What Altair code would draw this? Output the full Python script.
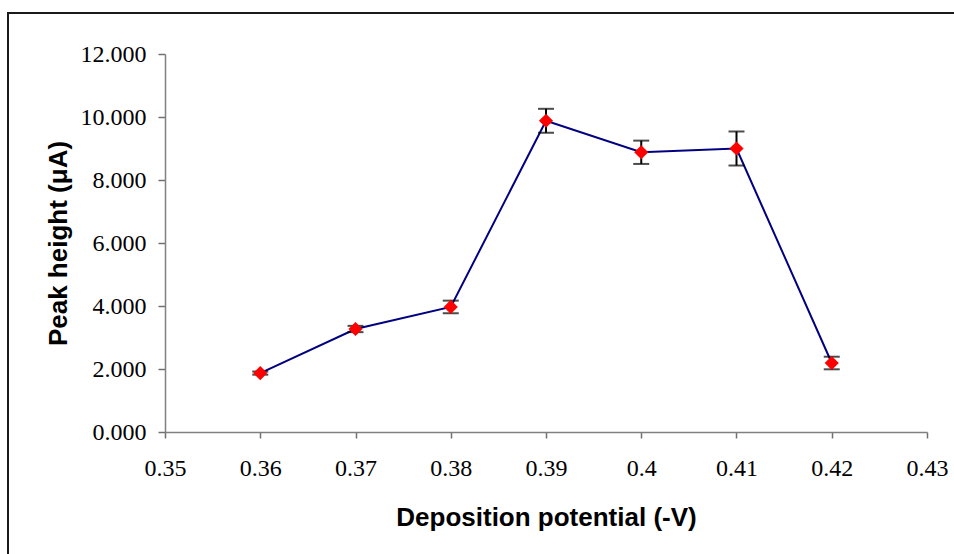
import altair as alt
import pandas as pd

# Deposition potential (-V) and measured peak height (µA) with standard deviations
potential = [0.36, 0.37, 0.38, 0.39, 0.40, 0.41, 0.42]
peak_height = [1.87, 3.27, 3.97, 9.88, 8.88, 9.00, 2.19]
peak_error = [0.05, 0.10, 0.20, 0.38, 0.37, 0.54, 0.20]

x_ticks = [0.35, 0.36, 0.37, 0.38, 0.39, 0.40, 0.41, 0.42, 0.43]
y_ticks = [0, 2, 4, 6, 8, 10, 12]

df = pd.DataFrame({
    "potential": potential,
    "height": peak_height,
    "low": [v - e for v, e in zip(peak_height, peak_error)],
    "high": [v + e for v, e in zip(peak_height, peak_error)],
})

x_enc = alt.X(
    "potential:Q",
    scale=alt.Scale(domain=[0.35, 0.43], nice=False, zero=False),
    axis=alt.Axis(
        title="Deposition potential (-V)",
        values=x_ticks,
        format="~g",
        tickSize=6,
        labelPadding=18,
        labelFlush=False,
        titleY=93,
        titleBaseline="alphabetic",
    ),
)
y_scale = alt.Scale(domain=[0, 12], nice=False)
y_enc = alt.Y(
    "height:Q",
    scale=y_scale,
    axis=alt.Axis(
        title="Peak height (\u03bcA)",
        values=y_ticks,
        format=".3f",
        tickSize=7,
        labelPadding=12,
        labelFlush=False,
        titleAngle=270,
        titleX=-99,
        titleY=189,
        titleAlign="center",
        titleBaseline="alphabetic",
    ),
)

base = alt.Chart(df)

line = base.mark_line(color="#000080", strokeWidth=2).encode(x=x_enc, y=y_enc)

err_rule = base.mark_rule(color="black", strokeWidth=2).encode(
    x="potential:Q",
    y=alt.Y("low:Q", scale=y_scale),
    y2="high:Q",
)
cap_low = base.mark_tick(color="black", orient="horizontal", size=16, thickness=2).encode(
    x="potential:Q", y=alt.Y("low:Q", scale=y_scale)
)
cap_high = base.mark_tick(color="black", orient="horizontal", size=16, thickness=2).encode(
    x="potential:Q", y=alt.Y("high:Q", scale=y_scale)
)

points = base.mark_point(
    shape="diamond", filled=True, color="#ff0000", size=200, opacity=1
).encode(x="potential:Q", y=alt.Y("height:Q", scale=y_scale))

# Outer border around the whole figure (runs off the right and bottom edges)
frame = alt.Chart(alt.Data(values=[{"f": 1}])).mark_rect(
    fill="transparent", stroke="#1a1a1a", strokeWidth=2
).encode(
    x=alt.value(-157),
    x2=alt.value(900),
    y=alt.value(-41),
    y2=alt.value(700),
)

chart = (
    alt.layer(frame, line, err_rule, cap_low, cap_high, points)
    .properties(
        width=762,
        height=378,
        padding={"left": 165, "top": 54, "right": 27, "bottom": 122},
        autosize=alt.AutoSizeParams(type="none"),
        background="white",
    )
    .configure_view(strokeWidth=0)
    .configure_axis(
        grid=False,
        domainColor="#808080",
        domainWidth=1.5,
        tickColor="#707070",
        tickWidth=1.5,
        labelFont="Liberation Serif",
        labelFontSize=24,
        labelColor="black",
        titleFont="Liberation Sans",
        titleFontSize=26,
        titleFontWeight="bold",
        titleColor="black",
    )
)

chart.save("out.html", embed_options={"renderer": "svg", "actions": False})
